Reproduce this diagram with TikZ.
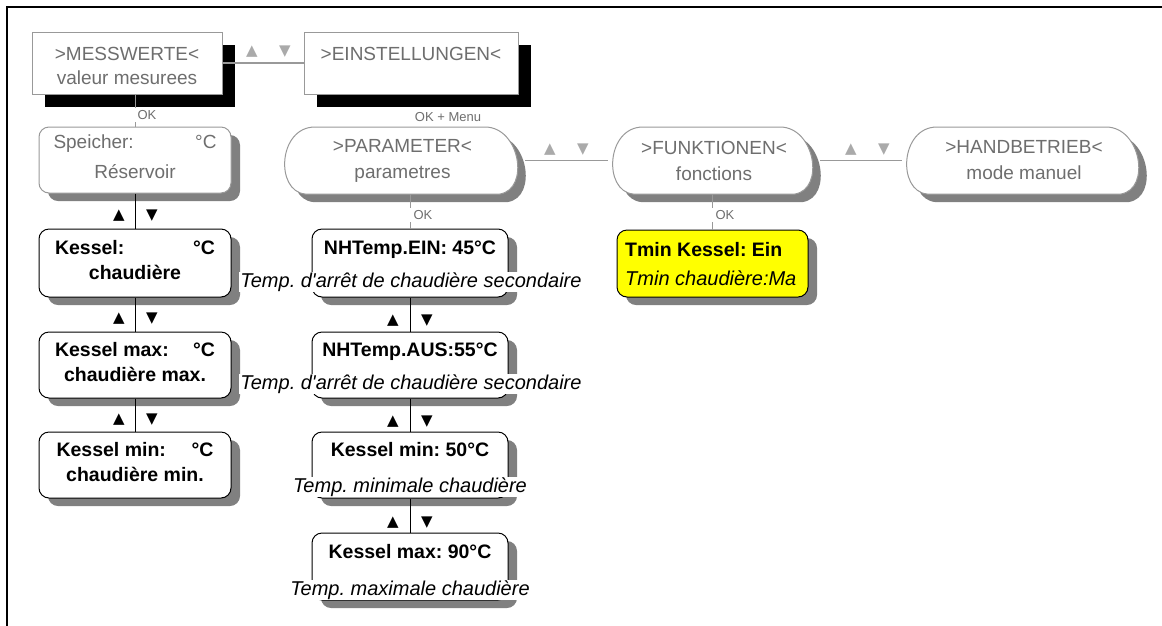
\documentclass[tikz,border=0pt]{standalone}
\usepackage{fontspec}
\setmainfont{Liberation Sans}
\newfontfamily\dejavu{DejaVu Sans}
\usetikzlibrary{shadows}
\definecolor{gtxt}{HTML}{6E6E6E}
\definecolor{gline}{HTML}{999999}
\definecolor{garrow}{HTML}{AAAAAA}
\definecolor{shgray}{HTML}{808080}
\definecolor{ylw}{HTML}{FFFF00}
\newcommand\lowstrut{\rule[-6pt]{0pt}{6pt}}
\newcommand\highstrut{\rule{0pt}{20pt}}
\newcommand\drawoblong[4]{%
  \fill[shgray,xshift=8pt,yshift=-8pt] (#1+35,#2) -- (#3-40,#2) .. controls (#3-5,#2) and (#3+5,#4-5) .. (#3-25,#4) -- (#1+25,#4) .. controls (#1-5,#4-3) and (#1-2,#2) .. (#1+35,#2) -- cycle;
  \filldraw[fill=white,draw=gline,line width=1pt] (#1+35,#2) -- (#3-40,#2) .. controls (#3-5,#2) and (#3+5,#4-5) .. (#3-25,#4) -- (#1+25,#4) .. controls (#1-5,#4-3) and (#1-2,#2) .. (#1+35,#2) -- cycle;
}
\begin{document}
\frenchspacing
\begin{tikzpicture}[x=1pt,y=-1pt,
  every node/.append style={execute at begin node=\frenchspacing},
  topbox/.style={draw=gline,line width=1pt,fill=white,inner sep=0pt,text=gtxt,
    font=\fontsize{19}{24}\selectfont,align=center,
    drop shadow={shadow xshift=13pt,shadow yshift=-13pt,fill=black,opacity=1}},
  graybox/.style={draw=gline,line width=1pt,fill=white,rounded corners=10pt,inner sep=0pt,
    text=gtxt,font=\fontsize{19}{30}\selectfont,align=center,
    drop shadow={shadow xshift=9pt,shadow yshift=-8pt,fill=shgray,opacity=1}},
  blackbox/.style={draw=black,line width=1pt,fill=white,rounded corners=10pt,inner sep=0pt,
    font=\bfseries\fontsize{19.5}{25}\selectfont,align=center,
    drop shadow={shadow xshift=9pt,shadow yshift=-8pt,fill=shgray,opacity=1}},
  obltxt/.style={inner sep=0pt,text=gtxt,font=\fontsize{19}{26}\selectfont,align=center},
  boldtxt/.style={inner sep=0pt,font=\bfseries\fontsize{19.5}{22}\selectfont},
  ittxt/.style={inner xsep=1pt,inner ysep=1pt,fill=white,font=\itshape\fontsize{20}{22}\selectfont},
  oklbl/.style={inner xsep=4pt,inner ysep=2pt,fill=white,text=gtxt,font=\fontsize{13}{15}\selectfont},
  garr/.style={inner sep=0pt,text=garrow,font=\dejavu\fontsize{15}{15}\selectfont},
  barr/.style={inner sep=0pt,text=black,font=\dejavu\fontsize{15}{15}\selectfont},
  gconn/.style={draw=gline,line width=1.2pt},
  bconn/.style={draw=black,line width=1pt}
]
\useasboundingbox (0,0) rectangle (1162,625);
\fill[white] (-10,-10) rectangle (1172,635);
\draw[line width=2pt] (7,640) -- (7,7) -- (1175,7);

% ---- top row
\node[topbox,minimum width=190pt,minimum height=62pt] (mess) at (127,63) {\highstrut>MESSWERTE<\\valeur mesurees};
\node[topbox,minimum width=214pt,minimum height=62pt] (eins) at (411,63) {\highstrut>EINSTELLUNGEN<\\\phantom{valeur mesurees}};
\draw[gconn] (mess.east) -- (eins.west);
\node[garr] (tu) at (252,52) {▲};
\node[garr] (td) at (285,52) {▼};

% ---- second row
\node[graybox,minimum width=192pt,minimum height=66pt] (spe) at (135,160) {\makebox[163pt]{Speicher:\hfill °C}\\Réservoir\lowstrut};
\drawoblong{280}{127}{525}{194}
\node[obltxt,minimum width=245pt,minimum height=67pt] (par) at (402.5,160.5) {>PARAMETER<\\parametres};
\drawoblong{608}{127}{820}{194}
\node[obltxt,minimum width=212pt,minimum height=67pt] (fun) at (714,160.5) {>FUNKTIONEN<\\fonctions};
\drawoblong{902}{127}{1146}{194}
\node[obltxt,minimum width=244pt,minimum height=67pt] (hand) at (1024,160.5) {>HANDBETRIEB<\\mode manuel};
\draw[gconn] (par.east) -- (fun.west);
\draw[gconn] (fun.east) -- (hand.west);
\node[garr] (pu) at (550,150) {▲};
\node[garr] (pd) at (583,150) {▼};
\node[garr] (fu) at (851,150) {▲};
\node[garr] (fd) at (884,150) {▼};

\draw[gconn,line width=1pt] (spe.north) -- (spe.north |- mess.south);
\node[oklbl] (ok1) at (147,115) {OK};
\node[oklbl,inner xsep=1pt] (okm) at (448,117) {OK + Menu};

% ---- left column
\node[blackbox,minimum width=192pt,minimum height=68pt] (k1) at (135,263) {\makebox[160pt]{Kessel:\hfill °C}\\chaudière\lowstrut};
\node[blackbox,minimum width=192pt,minimum height=66pt] (k2) at (135,365) {\makebox[160pt]{Kessel max:\hfill °C}\\chaudière max.\lowstrut};
\node[blackbox,minimum width=192pt,minimum height=66pt] (k3) at (135,465) {\makebox[157pt]{Kessel min:\hfill °C}\\chaudière min.\lowstrut};
\draw[bconn] (spe.south) -- (k1.north);
\draw[bconn] (k1.south) -- (k2.north);
\draw[bconn] (k2.south) -- (k3.north);
\node[barr] (a1u) at (119,216) {▲};
\node[barr] (a1d) at (152,216) {▼};
\node[barr] (a2u) at (119,319) {▲};
\node[barr] (a2d) at (152,319) {▼};
\node[barr] (a3u) at (119,420) {▲};
\node[barr] (a3d) at (152,420) {▼};

% ---- middle column
\node[blackbox,minimum width=196pt,minimum height=68pt] (nh1) at (410,263) {};
\node[blackbox,minimum width=196pt,minimum height=66pt] (nh2) at (410,365) {};
\node[blackbox,minimum width=196pt,minimum height=66pt] (km) at (410,465) {};
\node[blackbox,minimum width=196pt,minimum height=67pt] (kx) at (410,566.5) {};
\draw[gconn,line width=1pt] (nh1.north) -- (nh1.north |- par.south);
\node[oklbl] (ok2) at (423,215) {OK};
\draw[bconn] (nh1.south) -- (nh2.north);
\draw[bconn] (nh2.south) -- (km.north);
\draw[bconn] (km.south) -- (kx.north);
\node[boldtxt] (nh1b) at (410,250) {NHTemp.EIN: 45°C};
\node[ittxt] (nh1i) at (411,282) {Temp. d\textquotesingle arrêt de chaudière secondaire};
\node[boldtxt] (nh2b) at (410,352) {NHTemp.AUS:55°C};
\node[ittxt] (nh2i) at (411,384) {Temp. d\textquotesingle arrêt de chaudière secondaire};
\node[boldtxt] (kmb) at (410,450) {Kessel min: 50°C};
\node[ittxt] (kmi) at (410,487) {Temp. minimale chaudière};
\node[boldtxt] (kxb) at (410,552) {Kessel max: 90°C};
\node[ittxt] (kxi) at (410,590) {Temp. maximale chaudière};
\node[barr] (m1u) at (393,321) {▲};
\node[barr] (m1d) at (427,321) {▼};
\node[barr] (m2u) at (393,422) {▲};
\node[barr] (m2d) at (427,422) {▼};
\node[barr] (m3u) at (393,523) {▲};
\node[barr] (m3d) at (427,523) {▼};

% ---- yellow box
\node[blackbox,fill=ylw,minimum width=191pt,minimum height=67pt] (yel) at (712.5,263.5) {};
\draw[gconn,line width=1pt] (yel.north) -- (yel.north |- fun.south);
\node[oklbl] (ok3) at (725,215) {OK};
\node[boldtxt,anchor=west] (yb) at (625,250) {Tmin Kessel: Ein};
\node[inner sep=0pt,font=\itshape\fontsize{20}{22}\selectfont,anchor=west] (yi) at (625,278) {Tmin chaudière:Ma};
\end{tikzpicture}
\end{document}
